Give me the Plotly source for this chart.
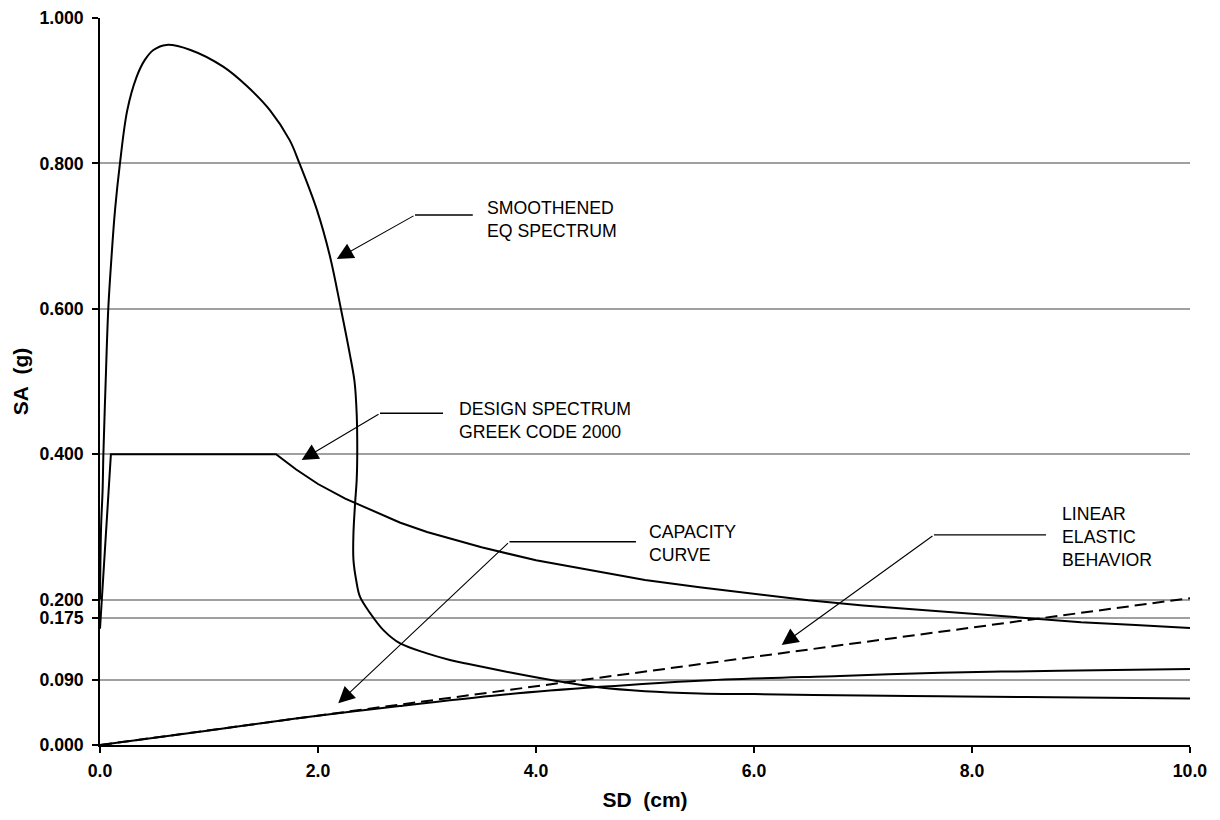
import plotly.graph_objects as go

# ---- data (SD in cm, SA in g) ----
eq_sd = [0.0, 0.01, 0.024, 0.031, 0.052, 0.076, 0.105, 0.138, 0.183, 0.25, 0.336, 0.41,
         0.49, 0.61, 0.83, 1.13, 1.35, 1.56, 1.74, 1.83, 1.99, 2.11, 2.21, 2.29, 2.335,
         2.355, 2.36, 2.355, 2.34, 2.325, 2.325, 2.35, 2.385, 2.48, 2.60, 2.75, 3.0, 3.21,
         3.36, 3.79, 4.19, 4.59, 5.0, 5.5, 6.0, 7.0, 7.71, 8.5, 10.0]
eq_sa = [0.20, 0.30, 0.351, 0.40, 0.50, 0.60, 0.67, 0.736, 0.80, 0.873, 0.919, 0.942,
         0.956, 0.963, 0.956, 0.933, 0.906, 0.873, 0.832, 0.80, 0.736, 0.672, 0.60, 0.539, 0.50,
         0.455, 0.40, 0.365, 0.332, 0.29, 0.255, 0.227, 0.204, 0.181, 0.158, 0.140, 0.126, 0.117,
         0.112, 0.099, 0.088, 0.079, 0.074, 0.071, 0.070, 0.068, 0.067, 0.066, 0.064]

design_sd = [0.0, 0.1, 1.615, 1.7, 1.8, 1.9, 2.0, 2.25, 2.5, 2.75, 3.0, 3.25, 3.5, 4.0,
             4.5, 5.0, 5.5, 6.0, 6.5, 7.0, 7.5, 8.0, 8.5, 9.0, 9.5, 10.0]
design_sa = [0.16, 0.40, 0.40, 0.390, 0.379, 0.369, 0.359, 0.339, 0.322, 0.306, 0.293,
             0.282, 0.272, 0.254, 0.240, 0.227, 0.217, 0.208, 0.199, 0.192, 0.186, 0.180,
             0.174, 0.169, 0.165, 0.161]

capacity_sd = [0.0, 1.0, 1.83, 2.75, 3.67, 4.59, 5.5, 6.79, 7.71, 8.8, 10.0]
capacity_sa = [0.0, 0.020, 0.037, 0.0536, 0.0688, 0.080, 0.0885, 0.095, 0.0995, 0.102, 0.1045]

linear_sd = [0.0, 10.0]
linear_sa = [0.0, 0.202]

y_ticks = [0.0, 0.09, 0.175, 0.2, 0.4, 0.6, 0.8, 1.0]
y_tick_labels = ["0.000", "0.090", "0.175", "0.200", "0.400", "0.600", "0.800", "1.000"]
x_ticks = [0, 2, 4, 6, 8, 10]
x_tick_labels = ["0.0", "2.0", "4.0", "6.0", "8.0", "10.0"]

labels = ["SMOOTHENED<br>EQ SPECTRUM", "DESIGN SPECTRUM<br>GREEK CODE 2000",
          "CAPACITY<br>CURVE", "LINEAR<br>ELASTIC<br>BEHAVIOR"]

# label callouts: text anchor, elbow start/end, arrow tip (data coords)
callouts = [
    dict(tx=3.53, ty=0.7235, ex0=2.89, ex1=3.42, ey=0.729, px=2.172, py=0.6685),
    dict(tx=3.273, ty=0.4464, ex0=2.569, ex1=3.147, ey=0.4563, px=1.850, py=0.392),
    dict(tx=5.022, ty=0.2765, ex0=3.757, ex1=4.917, ey=0.2796, px=2.186, py=0.0574),
    dict(tx=8.804, ty=0.2861, ex0=7.651, ex1=8.679, ey=0.2889, px=6.254, py=0.1376),
]

FONT = "Liberation Sans, Arial, sans-serif"

fig = go.Figure()
fig.add_trace(go.Scatter(x=eq_sd, y=eq_sa, mode="lines",
                         line=dict(color="black", width=2, shape="spline", smoothing=1.0),
                         showlegend=False, hoverinfo="skip"))
fig.add_trace(go.Scatter(x=design_sd, y=design_sa, mode="lines",
                         line=dict(color="black", width=2),
                         showlegend=False, hoverinfo="skip"))
fig.add_trace(go.Scatter(x=capacity_sd, y=capacity_sa, mode="lines",
                         line=dict(color="black", width=2, shape="spline", smoothing=0.8),
                         showlegend=False, hoverinfo="skip"))
fig.add_trace(go.Scatter(x=linear_sd, y=linear_sa, mode="lines",
                         line=dict(color="black", width=2, dash="12px,6px"),
                         showlegend=False, hoverinfo="skip"))

for lab, c in zip(labels, callouts):
    fig.add_shape(type="line", x0=c["ex0"], x1=c["ex1"], y0=c["ey"], y1=c["ey"],
                  xref="x", yref="y", line=dict(color="black", width=1.3))
    fig.add_annotation(x=c["px"], y=c["py"], ax=c["ex0"], ay=c["ey"], axref="x", ayref="y",
                       xref="x", yref="y", text="", showarrow=True, arrowhead=2,
                       arrowsize=3.0, arrowwidth=1.1, arrowcolor="black")
    fig.add_annotation(x=c["tx"], y=c["ty"], xref="x", yref="y", text=lab, showarrow=False,
                       xanchor="left", yanchor="middle", align="left",
                       font=dict(family=FONT, size=17.7, color="black"))

fig.update_layout(
    width=1212, height=812,
    margin=dict(l=92, r=30, t=10, b=75, autoexpand=False),
    paper_bgcolor="white", plot_bgcolor="white",
    font=dict(family=FONT, color="black"),
    xaxis=dict(range=[0, 10], tickmode="array", tickvals=x_ticks, ticktext=x_tick_labels,
               showgrid=False, zeroline=False, showline=True, linecolor="black", linewidth=1.5,
               ticks="outside", ticklen=6, tickwidth=1.5, tickcolor="black",
               ticklabelstandoff=3, automargin=False,
               tickfont=dict(family=FONT, size=17.7, weight="bold"),
               title=dict(text="SD\u00a0\u00a0(cm)", font=dict(family=FONT, size=21, weight="bold"),
                          standoff=12)),
    yaxis=dict(range=[0, 1], tickmode="array", tickvals=y_ticks, ticktext=y_tick_labels,
               showgrid=True, gridcolor="#a0a0a0", gridwidth=1.5, zeroline=False,
               showline=True, linecolor="black", linewidth=1.5,
               ticks="outside", ticklen=6, tickwidth=1.5, tickcolor="black",
               ticklabelstandoff=5, automargin=False,
               tickfont=dict(family=FONT, size=17.7, weight="bold"),
               title=dict(text="SA\u00a0\u00a0(g)", font=dict(family=FONT, size=21, weight="bold"),
                          standoff=5)),
)

fig.write_html("out.html")
